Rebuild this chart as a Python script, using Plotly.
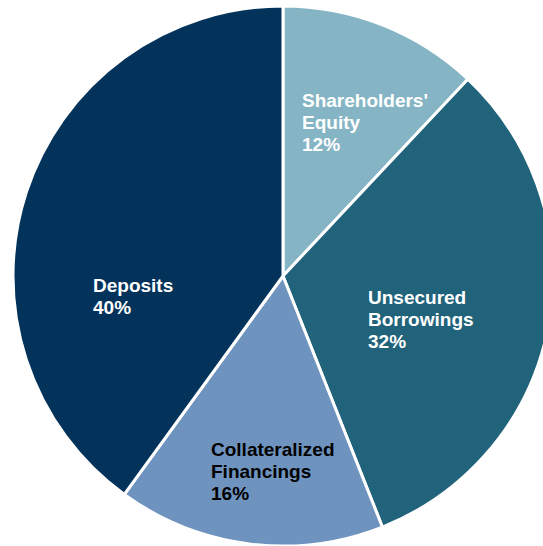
import plotly.graph_objects as go

categories = ["Shareholders' Equity", "Unsecured Borrowings", "Collateralized Financings", "Deposits"]
values = [12, 32, 16, 40]
label_lines = [["Shareholders'", "Equity"], ["Unsecured", "Borrowings"], ["Collateralized", "Financings"], ["Deposits"]]
colors = ["#85B5C5", "#20637A", "#6F93BF", "#03335B"]
text_colors = ["white", "white", "black", "white"]
# label anchor positions (paper coords, left/top)
label_pos = [(0.531, 0.849), (0.654, 0.484), (0.363, 0.201), (0.144, 0.506)]
LINE_GAP = 22

W, H = 553, 546
fig = go.Figure(go.Pie(
    labels=categories,
    values=values,
    sort=False,
    direction="clockwise",
    rotation=0,
    marker=dict(colors=colors, line=dict(color="white", width=3)),
    textinfo="none",
    hoverinfo="label+percent",
    showlegend=False,
))

for lines, v, tc, (px, py) in zip(label_lines, values, text_colors, label_pos):
    for i, line in enumerate(lines + [f"{v}%"]):
        fig.add_annotation(
            x=px, y=py, xref="paper", yref="paper",
            xanchor="left", yanchor="top", align="left",
            yshift=-LINE_GAP * i,
            text=line,
            showarrow=False,
            font=dict(family="Liberation Sans, Arial, sans-serif", size=19, color=tc, weight="bold"),
        )

fig.update_layout(
    width=W, height=H,
    margin=dict(l=13, r=0, t=6, b=0),
    paper_bgcolor="white",
    plot_bgcolor="white",
)

fig.write_html(
    "out.html",
    config={"displayModeBar": False},
    post_script="document.body.style.margin='0';document.body.style.overflow='hidden';",
)
